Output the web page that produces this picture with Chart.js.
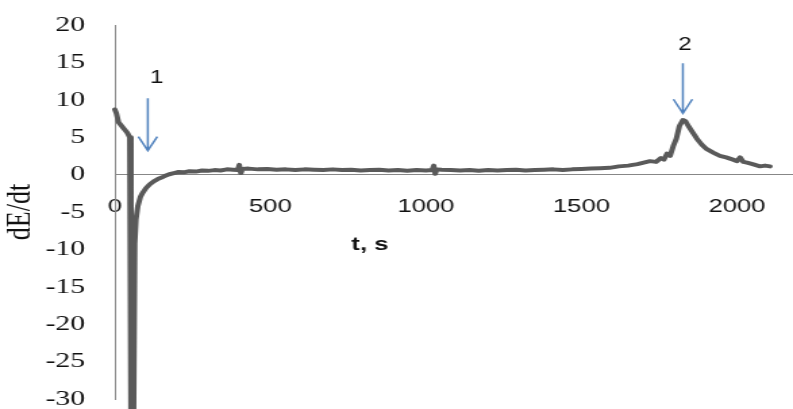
<!DOCTYPE html>
<html>
<head>
<meta charset="utf-8">
<script src="https://cdn.jsdelivr.net/npm/chart.js@4/dist/chart.umd.min.js"></script>
<style>
  html, body { margin: 0; padding: 0; background: #fff; }
</style>
</head>
<body>
<!-- the original picture is stretched sideways, so the canvas is too -->
<canvas id="myChart" width="587" height="409" style="display:block;width:793px;height:409px"></canvas>
<script>
var timeS = [0, 5, 12, 20, 30, 40, 48, 52, 60, 64, 68, 74, 82, 90, 100, 112, 125, 138, 150, 160,
  175, 190, 205, 220, 240, 260, 280, 300, 320, 340, 360, 380, 395, 400, 405, 410, 430, 460, 490, 520,
  550, 580, 610, 640, 670, 700, 730, 760, 790, 820, 850, 880, 910, 940, 970, 1000, 1020, 1025, 1030, 1035,
  1050, 1080, 1110, 1140, 1170, 1200, 1230, 1260, 1290, 1320, 1350, 1380, 1410, 1440, 1470, 1500, 1530, 1560, 1590, 1620,
  1650, 1680, 1700, 1720, 1740, 1755, 1765, 1775, 1785, 1795, 1805, 1815, 1826, 1835, 1845, 1858, 1871, 1887, 1903, 1925,
  1945, 1965, 1987, 2000, 2010, 2020, 2032, 2050, 2074, 2090, 2106];
var dEdt = [8.7, 8.2, 7.0, 6.6, 6.1, 5.6, 5.0, -35, -35, -9.2, -6.0, -4.2, -3.0, -2.4, -1.8, -1.3, -0.9, -0.6, -0.4, -0.2,
  0.05, 0.2, 0.35, 0.3, 0.45, 0.4, 0.55, 0.5, 0.6, 0.55, 0.7, 0.65, 0.6, 1.3, 0.2, 0.75, 0.8, 0.7, 0.75, 0.65,
  0.7, 0.6, 0.7, 0.65, 0.6, 0.7, 0.6, 0.65, 0.55, 0.6, 0.65, 0.55, 0.6, 0.5, 0.6, 0.55, 0.6, 1.2, 0.1, 0.7,
  0.65, 0.6, 0.55, 0.6, 0.5, 0.6, 0.55, 0.6, 0.65, 0.55, 0.6, 0.65, 0.7, 0.6, 0.7, 0.75, 0.8, 0.85, 0.9, 1.1,
  1.2, 1.4, 1.6, 1.8, 1.7, 2.2, 2.0, 2.8, 2.5, 3.8, 4.8, 6.5, 7.3, 7.1, 6.4, 5.6, 4.8, 4.0, 3.4, 2.9,
  2.5, 2.3, 2.0, 1.8, 2.3, 1.7, 1.6, 1.4, 1.1, 1.2, 1.1];
var xTicks = [0, 500, 1000, 1500, 2000];

// arrows "1" and "2" (time, from value, to value)
var arrowT = [106, 1826];
var arrowFrom = [10.2, 14.9];
var arrowTo = [3.2, 8.2];
var arrowText = ['1', '2'];
var textT = [135, 1833];
var textV = [12.9, 17.3];

var marks = {
  id: 'marks',
  afterDraw: function (chart) {
    var c = chart.ctx, x = chart.scales.x, y = chart.scales.y;
    c.save();
    c.strokeStyle = '#4f81bd';
    c.lineWidth = 1.5;
    for (var i = 0; i < arrowT.length; i++) {
      var px = x.getPixelForValue(arrowT[i]);
      var y0 = y.getPixelForValue(arrowFrom[i]);
      var y1 = y.getPixelForValue(arrowTo[i]);
      c.beginPath();
      c.moveTo(px, y0);
      c.lineTo(px, y1);
      c.moveTo(px - 7, y1 - 14);
      c.lineTo(px, y1);
      c.lineTo(px + 7, y1 - 14);
      c.stroke();
    }
    c.fillStyle = '#111';
    c.textAlign = 'center';
    c.textBaseline = 'middle';
    c.font = '18px "Liberation Sans"';
    for (var j = 0; j < arrowText.length; j++) {
      c.fillText(arrowText[j], x.getPixelForValue(textT[j]), y.getPixelForValue(textV[j]));
    }
    // x axis title sits under the tick labels
    c.font = 'bold 19px "Liberation Sans"';
    c.fillText('t, s', x.getPixelForValue(820), y.getPixelForValue(-9.4));
    c.restore();
  }
};

Chart.defaults.font.family = '"Liberation Serif", "Times New Roman", serif';
Chart.defaults.color = '#111';

var ctx = document.getElementById('myChart').getContext('2d');
var chart = new Chart(ctx, {
  type: 'line',
  data: {
    datasets: [{
      data: timeS.map(function (t, i) { return { x: t, y: dEdt[i] }; }),
      borderColor: '#5a5a5a',
      borderWidth: 4,
      borderJoinStyle: 'round',
      borderCapStyle: 'round',
      pointRadius: 0,
      tension: 0,
      clip: false
    }]
  },
  options: {
    responsive: false,
    animation: false,
    layout: { padding: { left: 0, right: 0, top: 25, bottom: 10 } },
    plugins: { legend: { display: false }, tooltip: { enabled: false } },
    scales: {
      x: {
        type: 'linear',
        position: { y: 0 },
        min: 0,
        max: 2180,
        grid: { display: false, drawTicks: false },
        border: { color: '#878787', width: 1 },
        afterBuildTicks: function (s) { s.ticks = xTicks.map(function (v) { return { value: v }; }); },
        afterFit: function (s) { s.height = 0; s.paddingLeft = 0; s.paddingRight = 0; },
        ticks: {
          padding: 21,
          font: { family: '"Liberation Sans", Arial, sans-serif', size: 19 },
          maxRotation: 0,
          callback: function (v) { return String(v); }
        }
      },
      y: {
        min: -30,
        max: 20,
        grid: { display: false, drawTicks: false },
        border: { color: '#878787', width: 1 },
        afterFit: function (s) { s.width = 85; s.paddingTop = 0; s.paddingBottom = 0; },
        ticks: {
          stepSize: 5,
          padding: 22,
          font: { size: 22 },
          callback: function (v) { return String(v); }
        },
        title: {
          display: true,
          text: 'dE/dt',
          padding: 0,
          font: { size: 26 }
        }
      }
    }
  },
  plugins: [marks]
});
</script>
</body>
</html>
